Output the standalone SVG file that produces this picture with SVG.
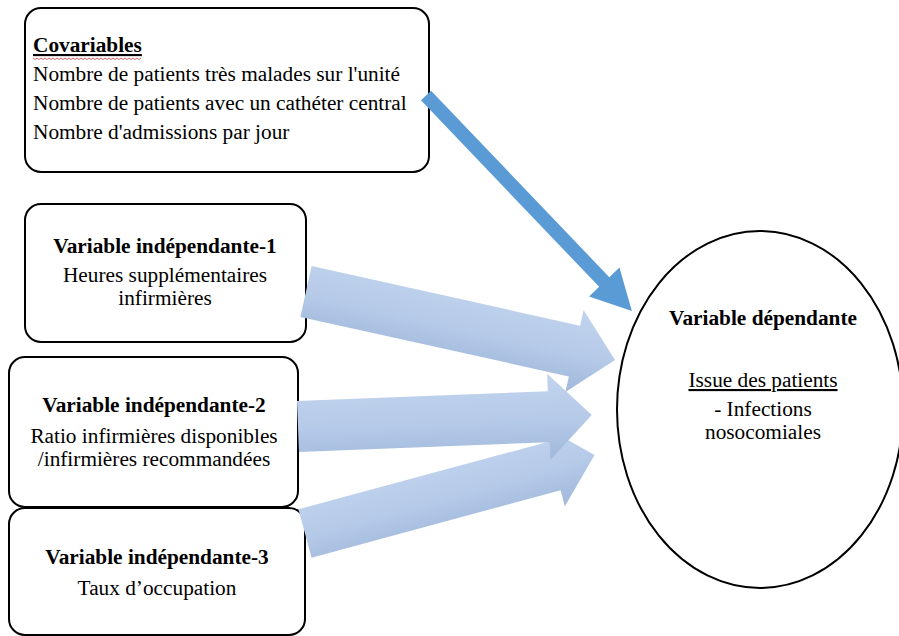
<svg xmlns="http://www.w3.org/2000/svg" width="899" height="636" viewBox="0 0 899 636">
<style>
.box{fill:#fff;stroke:#000;stroke-width:2}
.t{font-family:"Liberation Serif","Times New Roman",serif;font-size:21.3px;fill:#000}
.b{font-weight:bold}
.c{text-anchor:middle}
.u{text-decoration:underline}
.la{fill:url(#lg)}
.da{fill:#5B9BD5}
</style>
<defs>
<linearGradient id="lg" x1="0" y1="0" x2="0" y2="1">
<stop offset="0" stop-color="#C0D3EE"/>
<stop offset="0.5" stop-color="#B7CBE9"/>
<stop offset="1" stop-color="#A0B8DB"/>
</linearGradient>
</defs>
<rect width="899" height="636" fill="#fff"/>
<g id="covariables">
<rect class="box" x="25" y="8" width="404" height="164" rx="16"/>
<text class="t b u" x="33" y="52">Covariables</text>
<polyline points="33,58 35,59.5 37,58 39,59.5 41,58 43,59.5 45,58 47,59.5 49,58 51,59.5 53,58 55,59.5 57,58 59,59.5 61,58 63,59.5 65,58 67,59.5 69,58 71,59.5 73,58 75,59.5 77,58 79,59.5 81,58 83,59.5 85,58 87,59.5 89,58 91,59.5 93,58 95,59.5 97,58 99,59.5 101,58 103,59.5 105,58 107,59.5 109,58 111,59.5 113,58 115,59.5 117,58 119,59.5 121,58 123,59.5 125,58 127,59.5 129,58 131,59.5 133,58 135,59.5 137,58 139,59.5 141,58" fill="none" stroke="#d04040" stroke-width="0.8"/>
<text class="t" x="33" y="81">Nombre de patients très malades sur l'unité</text>
<text class="t" x="33" y="110">Nombre de patients avec un cathéter central</text>
<text class="t" x="33" y="139">Nombre d'admissions par jour</text>
</g>
<g id="vi1">
<rect class="box" x="25" y="204" width="281" height="138" rx="16"/>
<text class="t b c" x="165" y="253">Variable indépendante-1</text>
<text class="t c" x="165" y="282">Heures supplémentaires</text>
<text class="t c" x="165" y="305">infirmières</text>
</g>
<g id="vi2">
<rect class="box" x="9" y="357" width="289" height="150" rx="16"/>
<text class="t b c" x="154" y="412">Variable indépendante-2</text>
<text class="t c" x="154" y="443">Ratio infirmières disponibles</text>
<text class="t c" x="154" y="466">/infirmières recommandées</text>
</g>
<g id="vi3">
<rect class="box" x="9" y="508" width="296" height="127" rx="16"/>
<text class="t b c" x="157" y="564">Variable indépendante-3</text>
<text class="t c" x="157" y="595">Taux d’occupation</text>
</g>
<g id="vd">
<ellipse class="box" cx="760" cy="409.5" rx="143" ry="178.5"/>
<text class="t b c" x="763" y="325">Variable dépendante</text>
<text class="t c u" x="763" y="387">Issue des patients</text>
<text class="t c" x="763" y="416">- Infections</text>
<text class="t c" x="763" y="439">nosocomiales</text>
</g>
<g id="connectors">
<path class="la" transform="translate(305,533.5) rotate(-15.15)" d="M0,-25 L258,-25 L258,-41.5 L300,0 L258,41.5 L258,25 L0,25 Z"/>
<path class="la" transform="translate(298,426.5) rotate(-2.24)" d="M0,-25.5 L251,-25.5 L251,-43 L294,0 L251,43 L251,25.5 L0,25.5 Z"/>
<path class="la" transform="translate(306,291.5) rotate(12.5)" d="M0,-26 L275,-26 L275,-42 L316.5,0 L275,42 L275,26 L0,26 Z"/>
<path class="da" transform="translate(426,95.5) rotate(46.3)" d="M0,-7 L258,-7 L258,-21 L298,0 L258,21 L258,7 L0,7 Z"/>
</g>
</svg>
